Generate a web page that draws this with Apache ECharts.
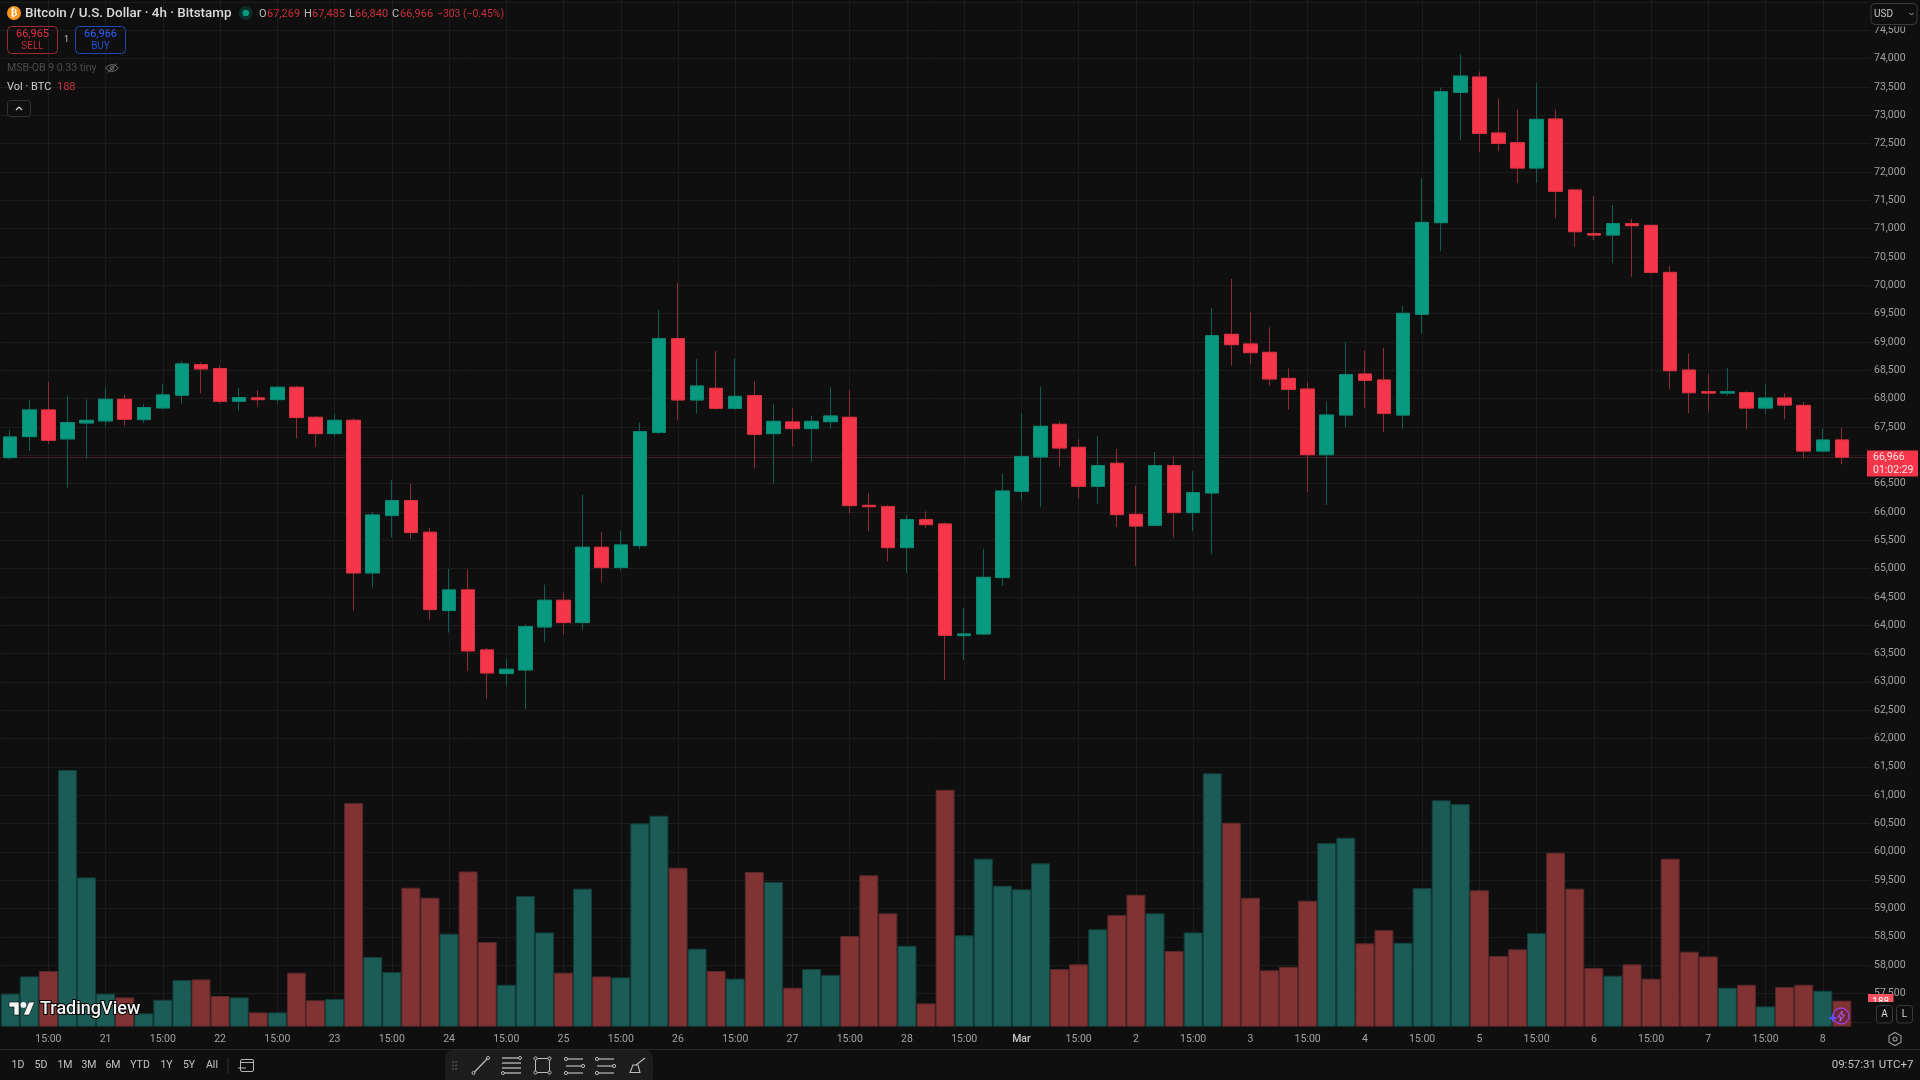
<!DOCTYPE html>
<html>
<head>
<meta charset="utf-8">
<title>Bitcoin / U.S. Dollar 4h</title>
<style>html,body{margin:0;padding:0;background:#0f0f0f}#chart{width:1920px;height:1080px}</style>
<script src="https://cdn.jsdelivr.net/npm/echarts@6/dist/echarts.min.js"></script>
</head>
<body>
<div id="chart"></div>
<script>
// Four-hour BTC/USD bars, oldest first
const opens = [66958,67329,67800,67288,67570,67606,67988,67629,67835,68059,68600,68530,67953,68012,67982,68200,67670,67382,67617,64923,65935,66200,65641,64258,64623,63563,63146,63210,63969,64440,64046,65376,65017,65404,67405,69058,67976,68182,67829,68052,67381,67588,67470,67593,67670,66116,66093,65369,65863,65787,63816,63845,64840,66363,66970,67546,67140,66452,66858,65957,65763,66817,65987,66334,69135,68964,68817,68357,68169,67010,67710,68434,68328,67710,69487,71105,73406,73676,72688,72517,72070,72935,71682,70911,70887,71087,71058,70228,68504,68122,68098,68104,67833,68010,67880,67074,67269];
const closes = [67323,67800,67265,67576,67617,67988,67635,67841,68065,68612,68524,67953,68018,67982,68200,67665,67382,67617,64923,65946,66200,65635,64275,64623,63546,63157,63222,63975,64440,64046,65376,65017,65417,67417,69058,67976,68223,67829,68040,67370,67599,67470,67599,67693,66111,66093,65369,65863,65775,63821,63845,64845,66369,66975,67511,67128,66452,66817,65952,65751,66817,65987,66340,69111,68952,68811,68346,68163,67010,67710,68422,68322,67739,69505,71111,73417,73694,72682,72505,72070,72929,71658,70946,70887,71087,71052,70228,68492,68104,68098,68122,67833,68010,67886,67074,67269,66966];
const lows = [66923,67076,67200,66429,66941,67517,67517,67570,67806,67912,68094,67912,67788,67859,67912,67300,67153,67323,64258,64664,65552,65523,64093,63869,63199,62693,62916,62522,63699,63828,63922,64758,64958,65340,67375,67617,67740,67805,67805,66769,66505,67152,66887,67470,65975,65657,65128,64928,65722,63033,63380,63828,64692,66199,66081,66799,66234,66146,65740,65046,65751,65551,65657,65257,68582,68611,68223,67804,66351,66121,67498,67833,67404,67463,69146,70599,72564,72346,72370,71805,71805,71187,70681,70799,70393,70152,70211,68169,67745,67775,68051,67457,67722,67633,66939,67074,66840];
const highs = [67447,67976,68294,68053,67988,68200,68065,67906,68265,68665,68635,68588,68188,68147,68224,68224,67694,67723,67653,65994,66570,66494,65711,64993,64987,63599,63405,64016,64717,64570,66305,65641,65670,67576,69564,70041,68694,68841,68705,68311,67905,67829,67693,68205,68152,66328,66122,65946,66010,65816,64304,65351,66681,67740,68205,67599,67281,67340,67111,66464,67058,66981,66717,69600,70112,69535,69258,68534,68287,67945,68993,68846,68899,69634,71893,73494,74076,73776,73300,73100,73570,73100,71682,71576,71417,71176,71058,70340,68798,68434,68540,68128,68257,68092,67945,67469,67485];
const volumes = [238,362,401,1848,1075,238,211,96,194,336,341,221,211,103,103,389,190,199,1610,502,394,1001,929,670,1118,610,302,941,679,389,994,362,355,1464,1519,1145,562,401,346,1114,1042,281,415,372,653,1090,816,583,168,1706,658,1210,1015,989,1176,415,449,701,804,950,816,545,679,1824,1469,929,406,432,907,1322,1361,600,696,605,998,1630,1603,982,509,557,674,1253,994,422,367,449,346,1210,540,506,281,302,146,286,302,259,188];
// Labels for every third bar, starting at the third one
const timeTicks = ['15:00','21','15:00','22','15:00','23','15:00','24','15:00','25','15:00','26','15:00','27','15:00','28','15:00','Mar','15:00','2','15:00','3','15:00','4','15:00','5','15:00','6','15:00','7','15:00','8'];
const priceMin = 57000, priceMax = 75000, priceStep = 500;
const hiddenPriceLabels = [75000, 67000, 57000];
const lastPrice = 66966, lastSell = 66965, lastVolume = 188;

const barCount = 98; // one spare slot to the right of the live bar
const categories = Array.from({length: barCount}, (_, i) => (i % 3 === 2 && timeTicks[(i - 2) / 3]) || '');
const isTick = i => i % 3 === 2;

const UP = '#089981', DOWN = '#F5364A';
const BG = '#0f0f0f', GRID = '#1c1c1c', FONT = 'Roboto';

const candleData = opens.map((o, i) => [o, closes[i], lows[i], highs[i]]);
const bodyData = opens.map((o, i) => [o, closes[i], Math.min(o, closes[i]), Math.max(o, closes[i])]);
const volumeData = volumes.map((v, i) => {
  const rising = closes[i] >= opens[i];
  return {
    value: v,
    itemStyle: {
      color: rising ? '#1b5c56' : '#813233',
      borderColor: rising ? '#123f3b' : '#57282a',
      borderWidth: 1
    }
  };
});

const fmt = n => n.toLocaleString('en-US');

// Small helpers for the surrounding terminal chrome
const text = (x, y, str, fill, size = 11, align = 'left', weight = 400, extra = {}) => ({
  type: 'text', z: 120, silent: true,
  style: Object.assign({x, y, text: str, fill, font: `${weight} ${size}px ${FONT}`, textAlign: align, textVerticalAlign: 'middle', align, verticalAlign: 'middle'}, extra)
});
const box = (x, y, width, height, fill, stroke, r = 0, z = 110) => ({
  type: 'rect', z, silent: true,
  shape: {x, y, width, height, r},
  style: {fill: fill || 'transparent', stroke: stroke || 'transparent', lineWidth: stroke ? 1 : 0}
});
const seg = (x1, y1, x2, y2, stroke = '#bdbdbd', lineWidth = 1.2) => ({
  type: 'line', z: 120, silent: true, shape: {x1, y1, x2, y2}, style: {stroke, lineWidth}
});
const dot = (cx, cy, r, fill, stroke, lineWidth = 1.2) => ({
  type: 'circle', z: 120, silent: true, shape: {cx, cy, r},
  style: {fill: fill || 'transparent', stroke: stroke || 'transparent', lineWidth: stroke ? lineWidth : 0}
});
const poly = (points, fill, stroke, lineWidth = 1) => ({
  type: 'polygon', z: 125, silent: true,
  shape: {points},
  style: {fill: fill || 'transparent', stroke: stroke || 'transparent', lineWidth}
});
const raised = (el, z) => Object.assign(el, {z});

const chrome = [
  // Symbol header
  dot(14, 13, 7, '#F7931A'),
  text(14, 13.5, '₿', '#fff', 10, 'center', 700),
  text(25, 14, 'Bitcoin / U.S. Dollar · 4h · Bitstamp', '#dcdcdc', 13.4, 'left', 500),
  dot(245.7, 13, 7, '#0c2d28'),
  dot(245.7, 13, 3.3, UP),
  text(259, 14, 'O', '#bdbdbd'), text(267, 14, fmt(opens[96]), '#c9303d'),
  text(304, 14, 'H', '#bdbdbd'), text(312, 14, fmt(highs[96]), '#c9303d'),
  text(349, 14, 'L', '#bdbdbd'), text(355, 14, fmt(lows[96]), '#c9303d'),
  text(392, 14, 'C', '#bdbdbd'), text(400, 14, fmt(closes[96]), '#c9303d'),
  text(437, 14, '−303 (−0.45%)', '#c9303d', 10.4),
  // Order buttons
  box(7.5, 26.5, 50, 27, null, '#9c2a34', 4),
  text(32.5, 34.5, fmt(lastSell), '#e5303f', 11, 'center'),
  text(32.5, 46, 'SELL', '#c02a37', 10, 'center'),
  text(66.5, 40, '1', '#bdbdbd', 9, 'center'),
  box(75.5, 26.5, 50, 27, null, '#2148b0', 4),
  text(100.5, 34.5, fmt(lastPrice), '#2962FF', 11, 'center'),
  text(100.5, 46, 'BUY', '#2150d0', 10, 'center'),
  // Study legend rows
  text(7, 68.5, 'MSB-OB 9 0.33 tiny', '#4c4c4c', 10.5),
  poly([[105.5, 68], [109, 65.2], [112, 64.5], [115, 65.2], [118.5, 68], [115, 70.8], [112, 71.5], [109, 70.8]], null, '#6a6a6a', 1),
  dot(112, 68, 1.8, null, '#6a6a6a', 1),
  seg(107.5, 72.5, 117, 63.5, '#6a6a6a', 1),
  text(7, 87.5, 'Vol · BTC', '#d0d0d0', 11),
  text(57, 87.5, fmt(lastVolume), '#c8343e', 11),
  box(7.5, 100.5, 23, 16, BG, '#333333', 3),
  seg(16, 110, 19, 107, '#d8d8d8', 1.3), seg(19, 107, 22, 110, '#d8d8d8', 1.3),
  // Currency selector over the price scale
  box(1868, 0, 52, 26.5, BG, null),
  box(1871, 3.5, 46, 21, BG, '#3a3a3a', 4, 112),
  text(1874, 14, 'USD', '#c8c8c8', 10),
  seg(1909.5, 13, 1911.5, 15, '#aaaaaa', 1), seg(1911.5, 15, 1913.5, 13, '#aaaaaa', 1),
  // Volume marker, cut off by the scale buttons
  box(1868, 994, 25.5, 14, '#F7525F', null, 0, 110),
  text(1880.7, 1002, fmt(lastVolume), '#ffffff', 10, 'center'),
  box(1868, 1002, 52, 19, BG, null, 0, 122),
  box(1876.5, 1005.5, 16, 17.5, BG, '#3a3a3a', 3, 123),
  box(1896.5, 1005.5, 16, 17.5, BG, '#3a3a3a', 3, 123),
  raised(text(1884.5, 1014.5, 'A', '#d8d8d8', 10, 'center'), 124),
  raised(text(1904.5, 1014.5, 'L', '#d8d8d8', 10, 'center'), 124),
  // Settings glyph under the price scale
  poly([[1895, 1032.5], [1901, 1035.8], [1901, 1042.2], [1895, 1045.5], [1889, 1042.2], [1889, 1035.8]], null, '#9a9a9a', 1.1),
  dot(1895, 1039, 2, null, '#9a9a9a', 1.1),
  // Assistant badge on the last volume bar
  dot(1841, 1016, 8, 'rgba(58,28,74,0.35)', '#a53fdc', 1.3),
  poly([[1842, 1011], [1838, 1017], [1840.8, 1017], [1839.8, 1021.5], [1844.5, 1015], [1841.8, 1015]], null, '#c35bf0', 1),
  poly([[1833, 1013], [1834.3, 1016.7], [1838, 1018], [1834.3, 1019.3], [1833, 1023], [1831.7, 1019.3], [1828, 1018], [1831.7, 1016.7]], '#6a4cff', null),
  // Brand mark
  poly([[9, 1002], [19.1, 1002], [19.1, 1015], [14, 1015], [14, 1007], [9, 1007]], '#f4f4f4', '#000', 0.6),
  poly([[23.4, 1015], [29.2, 1015], [34.6, 1002], [28.8, 1002]], '#f4f4f4', '#000', 0.6),
  raised(dot(23.4, 1004.9, 2.9, '#f4f4f4'), 125),
  raised(text(40, 1009.5, 'TradingView', '#f4f4f4', 18, 'left', 500, {stroke: '#000', lineWidth: 2}), 125),
  // Bottom toolbar
  seg(0, 1049.5, 1920, 1049.5, '#2a2a2a', 1),
  ...[['1D', 18], ['5D', 41], ['1M', 65], ['3M', 89], ['6M', 113], ['YTD', 140], ['1Y', 166.5], ['5Y', 189], ['All', 212]]
    .map(([t, x]) => text(x, 1065.5, t, '#c4c4c4', 10.5, 'center')),
  seg(228, 1057, 228, 1073, '#333333', 1),
  box(240.5, 1059.5, 13, 12, null, '#b4b4b4', 1.5, 118),
  seg(240.5, 1062.5, 253.5, 1062.5, '#b4b4b4', 1),
  seg(238, 1068, 246, 1068, '#b4b4b4', 1),
  box(445, 1050, 208, 36, '#1d1d1d', null, 8, 112),
  ...[1062, 1065.5, 1069].flatMap(y => [dot(453, y, 0.9, '#555555'), dot(456, y, 0.9, '#555555')]),
  // Drawing tools
  seg(474.5, 1072, 487, 1059),
  dot(473.5, 1073, 1.5, null, '#bdbdbd', 1), dot(488, 1058, 1.5, null, '#bdbdbd', 1),
  ...[1058, 1063, 1068, 1073].flatMap(y => [seg(502, y, 521, y, '#bdbdbd', 1.3)]),
  dot(503, 1073, 1.5, '#1d1d1d', '#bdbdbd', 1), dot(520, 1058, 1.5, '#1d1d1d', '#bdbdbd', 1),
  box(535.5, 1058.5, 14, 14, null, '#bdbdbd', 0, 118),
  ...[[535.5, 1058.5], [549.5, 1058.5], [535.5, 1072.5], [549.5, 1072.5]].map(([x, y]) => dot(x, y, 1.6, '#1d1d1d', '#bdbdbd', 1)),
  ...[566, 597].flatMap(x => [
    seg(x, 1059, x + 17, 1059), seg(x, 1066, x + 17, 1066), seg(x, 1073, x + 17, 1073),
    dot(x, 1059, 1.6, '#1d1d1d', '#bdbdbd', 1), dot(x + 17, 1066, 1.6, '#1d1d1d', '#bdbdbd', 1), dot(x, 1073, 1.6, '#1d1d1d', '#bdbdbd', 1)
  ]),
  poly([[630, 1072.5], [633, 1065], [638, 1065], [640, 1072.5]], null, '#bdbdbd', 1.1),
  seg(636, 1065, 645, 1058, '#bdbdbd', 1.1),
  text(1913.5, 1065.5, '09:57:31 UTC+7', '#c4c4c4', 11.5, 'right')
];

const chart = echarts.init(document.getElementById('chart'), null, {renderer: 'canvas'});
chart.setOption({
  animation: false,
  backgroundColor: BG,
  textStyle: {fontFamily: FONT},
  grid: [
    {id: 'price', left: 0.66, top: 2.05, width: 98 * 19.08, height: 1019.7, containLabel: false},
    {id: 'volume', left: 0.66, top: 0, width: 98 * 19.08, height: 1026.7, containLabel: false}
  ],
  xAxis: [
    {type: 'category', gridIndex: 0, data: categories, show: false},
    {
      type: 'category', gridIndex: 1, data: categories,
      axisLine: {show: false}, axisTick: {show: false},
      splitLine: {show: true, interval: isTick, alignWithLabel: true, lineStyle: {color: GRID, width: 1}},
      axisLabel: {
        interval: isTick, margin: 7, color: '#a3a3a3', fontSize: 10.5, fontFamily: FONT, hideOverlap: false,
        formatter: v => v === 'Mar' ? '{m|Mar}' : v,
        rich: {m: {color: '#c8c8c8', fontSize: 10.5, fontWeight: 500, fontFamily: FONT}}
      }
    }
  ],
  yAxis: [
    {
      type: 'value', gridIndex: 0, position: 'right', min: priceMin, max: priceMax, interval: priceStep,
      axisLine: {show: false}, axisTick: {show: false},
      splitLine: {show: true, lineStyle: {color: GRID, width: 1}},
      axisLabel: {
        margin: 3.5, color: '#a3a3a3', fontSize: 10.5, fontFamily: FONT, align: 'left',
        showMinLabel: true, showMaxLabel: true,
        formatter: v => hiddenPriceLabels.includes(v) ? '' : fmt(v)
      }
    },
    {type: 'value', gridIndex: 1, min: 0, max: 7392, show: false, splitLine: {show: false}}
  ],
  series: [
    {
      name: 'Volume', type: 'bar', xAxisIndex: 1, yAxisIndex: 1, z: 2,
      data: volumeData, barWidth: 19, silent: true
    },
    {
      name: 'Wicks', type: 'candlestick', xAxisIndex: 0, yAxisIndex: 0, z: 3, silent: true,
      data: candleData, barWidth: 14,
      itemStyle: {color: '#0a5f52', color0: '#8e2b34', borderColor: '#0a5f52', borderColor0: '#8e2b34', borderWidth: 1},
      markLine: {
        silent: true, symbol: 'none', z: 1, animation: false,
        lineStyle: {type: 'dotted', color: '#7d2a32', width: 1},
        data: [{yAxis: lastPrice}],
        label: {
          show: true, position: 'end', distance: -3.5, offset: [0, 6.3], formatter: fmt(lastPrice) + '\n01:02:29',
          backgroundColor: '#F5364A', color: '#fde4e6', fontFamily: FONT, fontSize: 10.5, lineHeight: 13,
          width: 43, padding: [0, 2, 0, 6], align: 'left', verticalAlign: 'middle'
        }
      }
    },
    {
      name: 'Bodies', type: 'candlestick', xAxisIndex: 0, yAxisIndex: 0, z: 4, silent: true,
      data: bodyData, barWidth: 14,
      itemStyle: {color: UP, color0: DOWN, borderColor: '#0b8a73', borderColor0: '#dc3242', borderWidth: 1}
    }
  ],
  graphic: {elements: chrome}
});
</script>
</body>
</html>
